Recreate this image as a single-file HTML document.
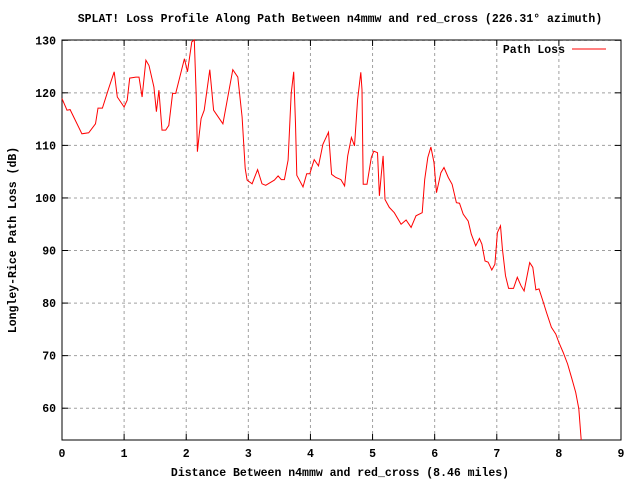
<!DOCTYPE html>
<html><head><meta charset="utf-8"><style>
html,body{margin:0;padding:0;background:#fff}
svg{display:block}
text{font-family:"Liberation Mono",monospace;font-size:11.5px;font-weight:bold;fill:#000}
</style></head><body>
<svg id="chart" width="640" height="480">
<text x="340" y="22" text-anchor="middle">SPLAT! Loss Profile Along Path Between n4mmw and red_cross (226.31° azimuth)</text>
<g id="grid"></g>
<g id="ticks"></g>
<rect x="62" y="40" width="559" height="400" fill="none" stroke="#000" stroke-width="1"/>
<path id="series" fill="none" stroke="#ff0000" stroke-width="1"/>
<text x="16" y="240" text-anchor="middle" transform="rotate(-90 16 240)">Longley-Rice Path Loss (dB)</text>
<text x="340" y="476" text-anchor="middle">Distance Between n4mmw and red_cross (8.46 miles)</text>
<g>
<text x="565" y="53" text-anchor="end">Path Loss</text>
<line x1="572" y1="49" x2="606" y2="49" stroke="#ff0000"/>
</g>
</svg>
<script>
const distances=[0,0.08,0.13,0.32,0.43,0.54,0.58,0.65,0.75,0.84,0.89,1.0,1.05,1.09,1.19,1.24,1.29,1.35,1.4,1.48,1.52,1.56,1.61,1.67,1.72,1.78,1.83,1.97,2.02,2.09,2.13,2.16,2.18,2.21,2.24,2.29,2.38,2.44,2.59,2.75,2.83,2.9,2.95,2.98,3.06,3.15,3.22,3.28,3.42,3.48,3.53,3.58,3.64,3.69,3.73,3.76,3.78,3.88,3.94,3.99,4.06,4.13,4.2,4.29,4.34,4.41,4.49,4.55,4.6,4.66,4.71,4.76,4.81,4.83,4.85,4.91,4.98,5.02,5.08,5.11,5.14,5.17,5.2,5.27,5.35,5.46,5.54,5.62,5.7,5.8,5.84,5.89,5.94,5.99,6.03,6.1,6.15,6.22,6.28,6.35,6.4,6.46,6.54,6.59,6.66,6.72,6.76,6.81,6.86,6.92,6.97,7.01,7.06,7.09,7.14,7.19,7.27,7.33,7.39,7.44,7.53,7.58,7.63,7.68,7.75,7.8,7.88,7.95,8.0,8.07,8.14,8.21,8.27,8.32,8.36];
const pathLoss=[118.9,116.7,116.8,112.2,112.4,114.1,117.1,117.1,120.8,124.0,119.2,117.3,118.6,122.8,123.0,123.0,119.2,126.2,125.2,121.1,116.4,120.5,112.9,112.9,113.8,119.9,119.9,126.5,124.0,129.7,130.2,119.5,108.8,112.2,115.1,116.7,124.4,116.7,114.1,124.4,123.0,115.4,105.6,103.4,102.7,105.4,102.7,102.4,103.4,104.2,103.5,103.5,107.2,119.9,124.0,114.1,104.3,102.1,104.6,104.6,107.3,106.1,110.2,112.5,104.5,103.9,103.5,102.3,108.0,111.5,109.9,118.7,123.9,120.6,102.6,102.6,107.7,108.9,108.6,100.4,104.5,108.0,99.7,98.2,97.2,95.0,95.8,94.4,96.6,97.2,103.5,107.7,109.7,106.7,101.0,104.8,105.8,103.9,102.6,99.1,99.0,96.9,95.6,93.1,90.9,92.3,91.2,88.0,87.8,86.3,87.4,93.4,94.7,90.3,85.2,82.8,82.8,84.9,83.3,82.3,87.7,86.8,82.5,82.7,80.1,78.2,75.4,74.1,72.5,70.6,68.4,65.6,63.0,59.9,53.9];
const xTicks=[0,1,2,3,4,5,6,7,8,9];
const yTicks=[60,70,80,90,100,110,120,130];
const X0=62,X1=621,Y0=440,Y1=40,XMIN=0,XMAX=9,YMIN=53.95,YMAX=130.05;
function sx(v){return X0+(v-XMIN)/(XMAX-XMIN)*(X1-X0);}
function sy(v){return Y0-(v-YMIN)/(YMAX-YMIN)*(Y0-Y1);}
const NS="http://www.w3.org/2000/svg";
const grid=document.getElementById('grid'),ticks=document.getElementById('ticks');
function mk(tag,attrs,parent){const e=document.createElementNS(NS,tag);for(const k in attrs)e.setAttribute(k,attrs[k]);parent.appendChild(e);return e;}
xTicks.forEach(t=>{
  const x=sx(t);
  if(t>0&&t<9){const g=mk('line',{x1:x,y1:Y0,x2:x,y2:Y1,stroke:'#a0a0a0','stroke-dasharray':'3,3'},grid);
  
  }
  const tk=mk('line',{x1:x,y1:Y0,x2:x,y2:Y0-6,stroke:'#000'},ticks);
  
  
  const tk2=mk('line',{x1:x,y1:Y1,x2:x,y2:Y1+6,stroke:'#000'},ticks);
  
  
  const lb=mk('text',{x:x,y:Y0+17,'text-anchor':'middle'},ticks);lb.textContent=t;
  
  
});
yTicks.forEach(t=>{
  const y=sy(t);
  const g=mk('line',{x1:X0,y1:y,x2:X1,y2:y,stroke:'#a0a0a0','stroke-dasharray':'3,3'},grid);
  
  
  const tk=mk('line',{x1:X0,y1:y,x2:X0+6,y2:y,stroke:'#000'},ticks);
  
  
  const tk2=mk('line',{x1:X1,y1:y,x2:X1-6,y2:y,stroke:'#000'},ticks);
  
  
  const lb=mk('text',{x:X0-6,y:y+4,'text-anchor':'end'},ticks);lb.textContent=t;
  
  
});
let d='';
distances.forEach((m,i)=>{d+=(i?'L':'M')+sx(m).toFixed(1)+','+sy(Math.max(YMIN,Math.min(YMAX,pathLoss[i]))).toFixed(1);});
document.getElementById('series').setAttribute('d',d);
</script>
</body></html>
